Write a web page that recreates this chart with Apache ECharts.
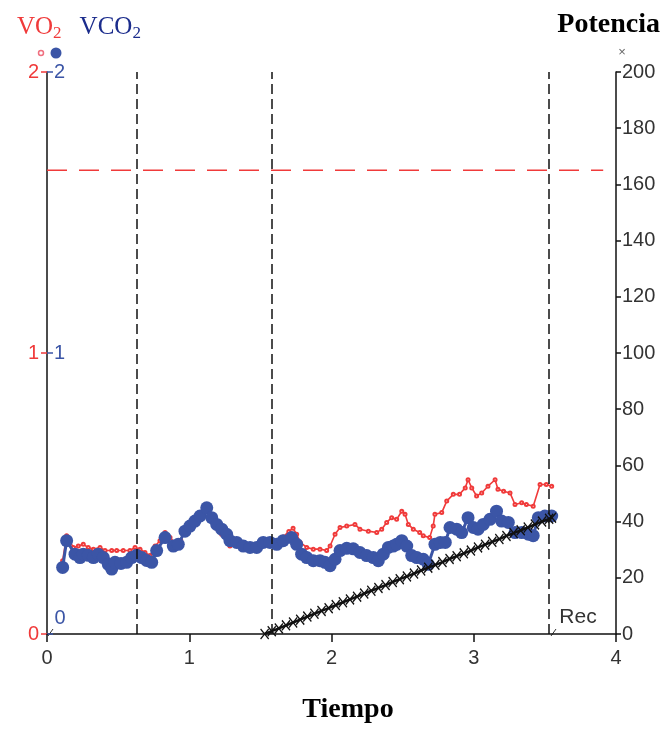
<!DOCTYPE html>
<html>
<head>
<meta charset="utf-8">
<script src="https://cdn.jsdelivr.net/npm/echarts@6/dist/echarts.min.js"></script>
<style>html,body{margin:0;padding:0;background:#fff}#c{width:667px;height:729px}</style>
</head>
<body>
<div id="c"></div>
<script>
// ---- data ----
const vco2Time = [0.11,0.138,0.197,0.232,0.255,0.29,0.326,0.36,0.396,0.431,0.455,0.478,0.52,0.56,0.595,0.63,0.666,0.70,0.736,0.771,0.83,0.888,0.923,0.97,1.005,1.04,1.076,1.123,1.158,1.193,1.228,1.263,1.286,1.333,1.38,1.427,1.474,1.52,1.568,1.615,1.66,1.72,1.755,1.79,1.826,1.872,1.919,1.954,1.99,2.025,2.06,2.107,2.153,2.2,2.247,2.294,2.329,2.364,2.40,2.434,2.458,2.494,2.529,2.564,2.60,2.645,2.68,2.727,2.765,2.80,2.833,2.88,2.915,2.96,2.997,3.03,3.067,3.114,3.16,3.196,3.243,3.29,3.337,3.384,3.418,3.454,3.50,3.548];
const vco2Values = [0.237,0.332,0.284,0.272,0.284,0.280,0.272,0.284,0.272,0.248,0.231,0.255,0.251,0.255,0.272,0.280,0.272,0.262,0.255,0.297,0.343,0.313,0.319,0.366,0.384,0.402,0.420,0.449,0.414,0.390,0.373,0.355,0.332,0.326,0.313,0.308,0.308,0.326,0.326,0.319,0.332,0.343,0.319,0.284,0.272,0.261,0.261,0.255,0.243,0.266,0.297,0.305,0.303,0.290,0.279,0.272,0.261,0.284,0.308,0.313,0.319,0.332,0.313,0.279,0.272,0.266,0.248,0.319,0.326,0.326,0.379,0.373,0.361,0.414,0.379,0.373,0.390,0.408,0.437,0.402,0.397,0.361,0.361,0.355,0.350,0.414,0.420,0.420];

const vo2Time = [0.11,0.138,0.185,0.22,0.255,0.29,0.326,0.373,0.408,0.455,0.49,0.536,0.583,0.619,0.654,0.689,0.724,0.76,0.794,0.83,0.865,0.90,0.94,0.97,1.005,1.04,1.076,1.123,1.158,1.193,1.228,1.263,1.286,1.333,1.38,1.427,1.474,1.52,1.568,1.615,1.66,1.70,1.73,1.755,1.78,1.826,1.872,1.919,1.966,1.99,2.025,2.06,2.107,2.165,2.2,2.259,2.318,2.353,2.388,2.423,2.458,2.494,2.517,2.54,2.575,2.62,2.645,2.69,2.715,2.727,2.775,2.81,2.856,2.90,2.94,2.96,2.986,3.02,3.056,3.10,3.15,3.17,3.21,3.255,3.29,3.337,3.37,3.418,3.466,3.51,3.548];
const vo2Values = [0.261,0.350,0.308,0.313,0.319,0.308,0.302,0.308,0.297,0.297,0.297,0.297,0.297,0.308,0.302,0.290,0.279,0.313,0.332,0.361,0.343,0.324,0.334,0.365,0.381,0.397,0.412,0.438,0.407,0.376,0.355,0.334,0.313,0.318,0.313,0.308,0.313,0.329,0.326,0.324,0.345,0.365,0.376,0.355,0.326,0.308,0.302,0.302,0.297,0.313,0.355,0.379,0.384,0.390,0.373,0.366,0.361,0.373,0.397,0.414,0.408,0.437,0.426,0.390,0.373,0.361,0.350,0.343,0.384,0.426,0.432,0.473,0.497,0.497,0.520,0.549,0.520,0.491,0.502,0.526,0.549,0.515,0.508,0.502,0.461,0.467,0.461,0.455,0.532,0.532,0.526];

const powerTime = [1.53,1.58,1.63,1.68,1.73,1.78,1.83,1.88,1.93,1.98,2.03,2.08,2.13,2.18,2.23,2.28,2.33,2.38,2.43,2.48,2.53,2.58,2.63,2.68,2.73,2.78,2.83,2.88,2.93,2.98,3.03,3.08,3.13,3.18,3.23,3.28,3.33,3.38,3.43,3.48,3.53,3.55];
const powerValues = [0,1,2,3.1,4.1,5.1,6.2,7.2,8.2,9.2,10.3,11.3,12.3,13.3,14.4,15.4,16.4,17.4,18.5,19.5,20.5,21.5,22.6,23.6,24.6,25.6,26.7,27.7,28.7,29.7,30.8,31.8,32.8,33.8,34.9,35.9,36.9,37.9,39,40,41,41.4];

const phaseMarks = [0.633, 1.582, 3.53];     // dashed vertical event lines (min)
const vo2Predicted = 1.65;                    // red dashed reference (L/min)
const refLineEnd = 3.91;                      // where the red dashed line stops
const timeTicks = [0, 1, 2, 3, 4];
const gasTicks = [0, 1, 2];
const powerTicks = [0, 20, 40, 60, 80, 100, 120, 140, 160, 180, 200];

// ---- chart ----
const RED = '#f03a3a', BLUE = '#3b55a6', NAVY = '#1b2c8c';
const sans = 'Liberation Sans, Arial, sans-serif';
const serif = 'Liberation Serif, Times New Roman, serif';
const zip = (a, b) => a.map((v, i) => [v, b[i]]);

const chart = echarts.init(document.getElementById('c'), null, {renderer: 'canvas'});
chart.setOption({
  animation: false,
  backgroundColor: '#fff',
  grid: {left: 47, right: 51, top: 72, bottom: 92},
  title: [{
    left: 12, top: 7,
    text: '{r|VO}{rs|2}{b|VCO}{bs|2}',
    textStyle: {
      fontWeight: 'normal',
      rich: {
        r: {fontFamily: serif, fontSize: 25, fontWeight: 'normal', color: RED, lineHeight: 30},
        rs: {fontFamily: serif, fontSize: 17, fontWeight: 'normal', color: RED, lineHeight: 30, verticalAlign: 'bottom'},
        b: {fontFamily: serif, fontSize: 25, fontWeight: 'normal', color: NAVY, lineHeight: 30, padding: [0, 0, 0, 18]},
        bs: {fontFamily: serif, fontSize: 17, fontWeight: 'normal', color: NAVY, lineHeight: 30, verticalAlign: 'bottom'}
      }
    }
  }, {
    right: 2, top: 6,
    text: 'Potencia',
    textStyle: {fontFamily: serif, fontSize: 28, fontWeight: 'bold', color: '#000'}
  }],
  xAxis: {
    type: 'value', min: timeTicks[0], max: timeTicks[timeTicks.length - 1], interval: 1,
    name: 'Tiempo', nameLocation: 'middle', nameGap: 62,
    nameTextStyle: {fontFamily: serif, fontSize: 28, fontWeight: 'bold', color: '#000', padding: [0, 0, 0, 33], verticalAlign: 'top'},
    axisLine: {show: true, onZero: false, lineStyle: {color: '#111', width: 1.5}},
    axisTick: {show: true, length: 8, lineStyle: {color: '#111', width: 1.5}},
    axisLabel: {fontFamily: sans, fontSize: 20, color: '#333', margin: 14},
    splitLine: {show: false}
  },
  yAxis: [{
    type: 'value', min: gasTicks[0], max: gasTicks[gasTicks.length - 1], interval: 1, position: 'left',
    axisLine: {show: true, lineStyle: {color: '#111', width: 1.5}},
    axisTick: {show: true, length: 6, lineStyle: {color: RED, width: 1.5}},
    axisLabel: {fontFamily: sans, fontSize: 20, color: RED, margin: 8},
    splitLine: {show: false}
  }, {
    type: 'value', min: gasTicks[0], max: gasTicks[gasTicks.length - 1], interval: 1, position: 'left',
    axisLine: {show: false},
    axisTick: {show: true, inside: true, length: 6, lineStyle: {color: BLUE, width: 1.5}},
    axisLabel: {inside: true, fontFamily: sans, fontSize: 20, color: BLUE, margin: 7,
      formatter: v => (v === 0 ? '' : String(v))},
    splitLine: {show: false}
  }, {
    type: 'value', min: powerTicks[0], max: powerTicks[powerTicks.length - 1], interval: 20, position: 'right',
    axisLine: {show: true, lineStyle: {color: '#111', width: 1.5}},
    axisTick: {show: true, length: 5, lineStyle: {color: '#111', width: 1.5}},
    axisLabel: {fontFamily: sans, fontSize: 20, color: '#333', margin: 6},
    splitLine: {show: false}
  }],
  series: [{
    name: 'ref', type: 'line', yAxisIndex: 0, clip: false, silent: true, z: 1,
    symbol: 'none',
    lineStyle: {color: RED, width: 1.5, type: [20, 12]},
    data: [[timeTicks[0], vo2Predicted], [refLineEnd, vo2Predicted]],
    markLine: {
      silent: true, symbol: ['none', 'none'], label: {show: false},
      lineStyle: {color: '#111', width: 1.5, type: [10, 5]},
      data: phaseMarks.map(x => ({xAxis: x}))
    }
  }, {
    name: 'VO2', type: 'line', yAxisIndex: 0, z: 3,
    symbol: 'emptyCircle', symbolSize: 3,
    lineStyle: {color: RED, width: 1.6},
    itemStyle: {color: RED, borderColor: '#f25a5a', borderWidth: 1},
    data: zip(vo2Time, vo2Values)
  }, {
    name: 'VCO2', type: 'line', yAxisIndex: 0, z: 4,
    symbol: 'circle', symbolSize: 13,
    lineStyle: {color: BLUE, width: 3},
    itemStyle: {color: BLUE},
    data: zip(vco2Time, vco2Values)
  }, {
    name: 'Potencia', type: 'line', yAxisIndex: 2, z: 5,
    symbol: 'path://M0,1 L1,0 L5,4 L9,0 L10,1 L6,5 L10,9 L9,10 L5,6 L1,10 L0,9 L4,5 Z',
    symbolSize: [9, 11],
    lineStyle: {color: '#111', width: 2.5},
    itemStyle: {color: '#111'},
    data: zip(powerTime, powerValues)
  }],
  graphic: [
    {type: 'circle', shape: {cx: 41, cy: 53, r: 2.5}, style: {fill: '#fff', stroke: '#f07080', lineWidth: 1.5}},
    {type: 'circle', shape: {cx: 56, cy: 53, r: 5.5}, style: {fill: BLUE}},
    {type: 'text', x: 622, y: 52, style: {text: '×', fontFamily: sans, fontSize: 13, fill: '#666', align: 'center', verticalAlign: 'middle'}},
    {type: 'text', x: 60, y: 618, style: {text: '0', fontFamily: sans, fontSize: 20, fill: BLUE, align: 'center', verticalAlign: 'middle'}},
    {type: 'text', x: 578, y: 617, style: {text: 'Rec', fontFamily: sans, fontSize: 21, fill: '#333', align: 'center', verticalAlign: 'middle'}},
    {type: 'line', shape: {x1: 53, y1: 629, x2: 48, y2: 636}, style: {stroke: '#333', lineWidth: 1}},
    {type: 'line', shape: {x1: 556, y1: 629, x2: 551, y2: 636}, style: {stroke: '#333', lineWidth: 1}}
  ]
});
</script>
</body>
</html>
